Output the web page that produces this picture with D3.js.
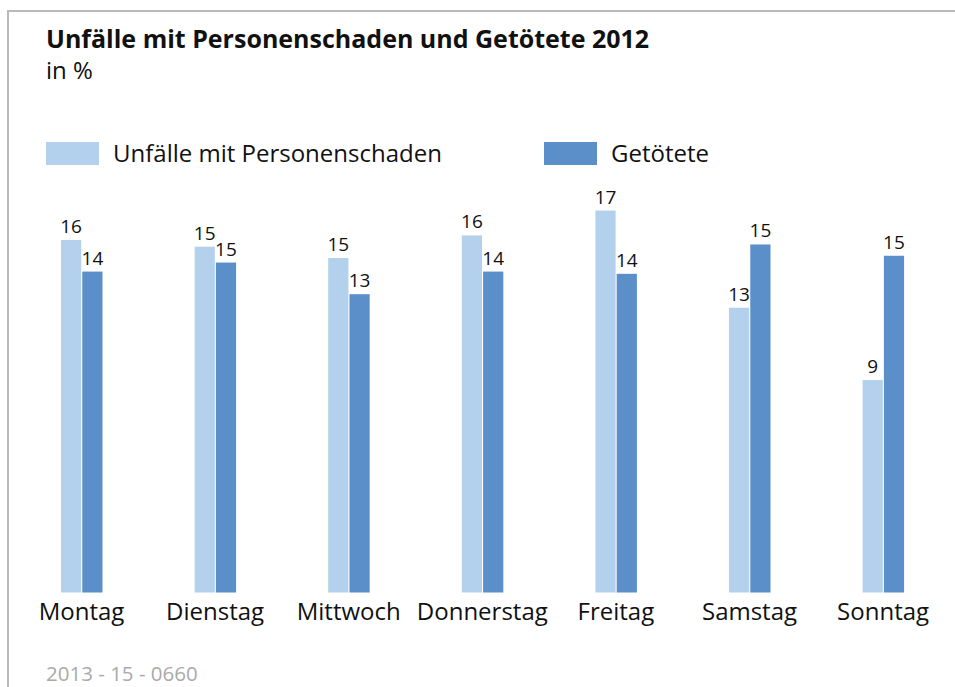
<!DOCTYPE html>
<html><head><meta charset="utf-8">
<script src="https://cdn.jsdelivr.net/npm/d3@7"></script>
<style>
html,body{margin:0;padding:0;background:#fff;}
svg{display:block;font-family:"Open Sans",sans-serif;}
</style></head>
<body>
<svg id="chart" width="955" height="687"></svg>
<script>
const categories = ["Montag","Dienstag","Mittwoch","Donnerstag","Freitag","Samstag","Sonntag"];
const seriesNames = ["Unfälle mit Personenschaden","Getötete"];
const unfaelle = [15.6, 15.3, 14.8, 15.8, 16.9, 12.6, 9.4];
const getoetete = [14.2, 14.6, 13.2, 14.2, 14.1, 15.4, 14.9];
const colors = ["#b3d1ed", "#5b8fc9"];
const titleText = "Unfälle mit Personenschaden und Getötete 2012";
const subtitleText = "in %";
const sourceText = "2013 - 15 - 0660";

const svg = d3.select("#chart");

// frame
svg.append("path")
  .attr("d", "M8,700 L8,11 L960,11")
  .attr("fill","none").attr("stroke","#b9b9b9").attr("stroke-width",2);

svg.append("text").attr("x",46).attr("y",48)
  .attr("font-size",25).attr("font-weight",700).attr("fill","#111")
  .text(titleText);
svg.append("text").attr("x",46).attr("y",79)
  .attr("font-size",24).attr("fill","#111").text(subtitleText);

// legend
const legendX = [46, 544];
seriesNames.forEach((n,i)=>{
  svg.append("rect").attr("x",legendX[i]).attr("y",142).attr("width",53).attr("height",23).attr("fill",colors[i]);
  svg.append("text").attr("x",legendX[i]+67).attr("y",162).attr("font-size",24).attr("fill","#111").text(n);
});

const baseline = 592.5;
const y = d3.scaleLinear().domain([0,20]).range([baseline, baseline - 452]);
const x = d3.scaleBand().domain(categories).range([14.7, 949.9]).padding(0);
const sub = d3.scaleBand().domain([0,1]).range([-20.5, 21]).paddingInner(0.05);

const data = categories.map((c,i)=>({cat:c, vals:[unfaelle[i], getoetete[i]]}));
const g = svg.append("g");
const groups = g.selectAll("g.grp").data(data).join("g")
  .attr("class","grp")
  .attr("transform", d=>`translate(${x(d.cat)+x.bandwidth()/2},0)`);

groups.selectAll("rect").data(d=>d.vals.map((v,k)=>({v,k}))).join("rect")
  .attr("x", d=>sub(d.k)).attr("width", sub.bandwidth())
  .attr("y", d=>y(d.v)).attr("height", d=>baseline - y(d.v))
  .attr("fill", d=>colors[d.k]);

groups.selectAll("text.val").data(d=>d.vals.map((v,k)=>({v,k}))).join("text")
  .attr("class","val")
  .attr("x", d=>sub(d.k)+sub.bandwidth()/2).attr("y", d=>y(d.v)-7)
  .attr("text-anchor","middle").attr("font-size",19).attr("fill","#111")
  .text(d=>d3.format(".0f")(d.v));

// category axis
const axis = d3.axisBottom(x).tickSize(0).tickPadding(0);
const ax = svg.append("g").attr("transform",`translate(0,${baseline})`).call(axis);
ax.select(".domain").remove();
ax.selectAll("text").attr("font-size",24).attr("fill","#111")
  .attr("font-family","'Open Sans',sans-serif").attr("dy",null).attr("y",27.5);

svg.append("text").attr("x",46).attr("y",681).attr("font-size",20.5).attr("fill","#aaaaaa").text(sourceText);
</script>
</body></html>
